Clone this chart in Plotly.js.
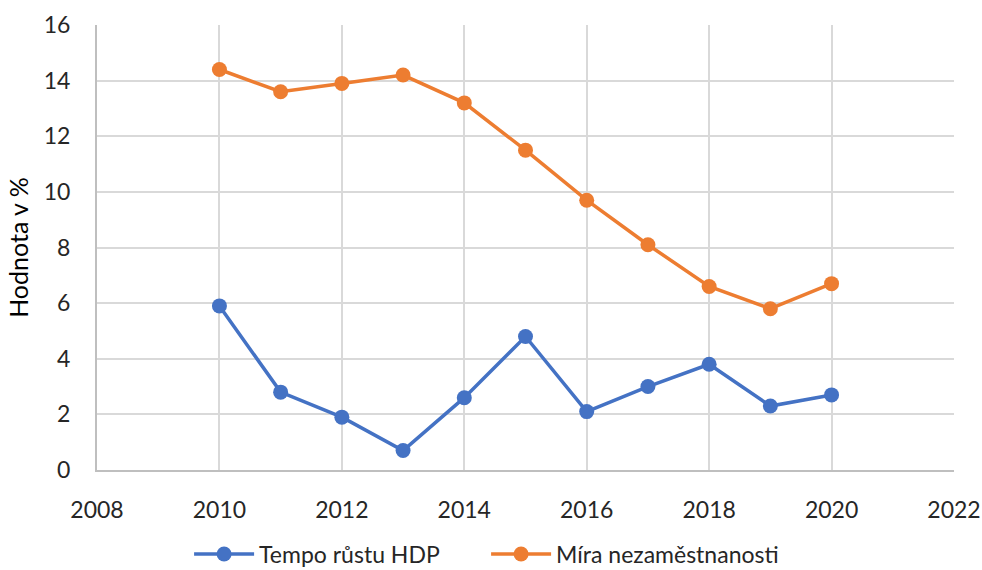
<!DOCTYPE html>
<html>
<head>
<meta charset="utf-8">
<script src="https://cdn.plot.ly/plotly-3.0.1.min.js"></script>
<style>html,body{margin:0;padding:0;background:#fff;}#chart{width:982px;height:570px;}</style>
</head>
<body>
<div id="chart"></div>
<script>
const years = [2010, 2011, 2012, 2013, 2014, 2015, 2016, 2017, 2018, 2019, 2020];
const gdpGrowth = [5.9, 2.8, 1.9, 0.7, 2.6, 4.8, 2.1, 3.0, 3.8, 2.3, 2.7];
const unemployment = [14.4, 13.6, 13.9, 14.2, 13.2, 11.5, 9.7, 8.1, 6.6, 5.8, 6.7];
const seriesNames = ["Tempo růstu HDP", "Míra nezaměstnanosti"];
const xTicks = [2008, 2010, 2012, 2014, 2016, 2018, 2020, 2022];
const yTicks = [0, 2, 4, 6, 8, 10, 12, 14, 16];

const fam = "Lato, 'Open Sans', sans-serif";

const traces = [
  {x: years, y: gdpGrowth, name: seriesNames[0], mode: "lines+markers",
   line: {color: "#4472C4", width: 3.5}, marker: {color: "#4472C4", size: 15}},
  {x: years, y: unemployment, name: seriesNames[1], mode: "lines+markers",
   line: {color: "#ED7D31", width: 3.5}, marker: {color: "#ED7D31", size: 15}}
];

const layout = {
  width: 982, height: 570,
  margin: {l: 97, r: 28, t: 25, b: 100, autoexpand: false},
  paper_bgcolor: "#fff", plot_bgcolor: "#fff",
  font: {family: fam, size: 23, color: "#262626"},
  showlegend: true,
  legend: {orientation: "h", x: 0.495, xref: "container", xanchor: "center",
           y: 0.028, yref: "container", yanchor: "middle",
           entrywidth: 222, entrywidthmode: "pixels",
           font: {family: fam, size: 23, color: "#262626"}, itemwidth: 60, tracegroupgap: 0},
  xaxis: {range: [2008, 2022], tickvals: xTicks, ticktext: xTicks.map(String),
          showgrid: true, gridcolor: "#d9d9d9", gridwidth: 2,
          showline: true, linecolor: "#bfbfbf", linewidth: 2,
          zeroline: false, ticks: "", ticklabelstandoff: 18, fixedrange: true,
          tickfont: {family: fam, size: 23, color: "#262626"}},
  yaxis: {range: [0, 16], tickvals: yTicks, ticktext: yTicks.map(String),
          showgrid: true, gridcolor: "#d9d9d9", gridwidth: 2,
          showline: true, linecolor: "#bfbfbf", linewidth: 2,
          zeroline: false, ticks: "", ticklabelstandoff: 20, fixedrange: true,
          tickfont: {family: fam, size: 23, color: "#262626"},
          title: {text: "Hodnota v %", font: {family: fam, size: 25, color: "#000"}, standoff: 8}}
};

Plotly.newPlot("chart", traces, layout, {displayModeBar: false, staticPlot: true});
</script>
</body>
</html>
